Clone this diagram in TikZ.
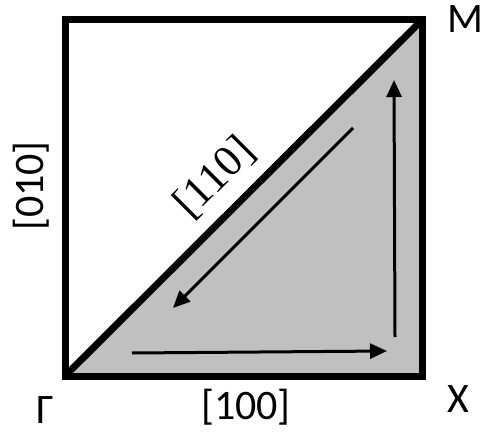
\documentclass[tikz,border=0pt]{standalone}
\usepackage{fontspec}
\setmainfont{Carlito}
\newfontfamily\serifnum{Liberation Serif}
\usetikzlibrary{arrows.meta}
\definecolor{zonegray}{RGB}{192,192,192}
\tikzset{
  frame/.style={line width=7pt, line join=miter},
  path arrow/.style={line width=3pt, -{Triangle[length=17pt,width=15pt]}},
  lbl/.style={font=\fontsize{42}{50}\selectfont, inner sep=0pt},
  serlbl/.style={font=\serifnum\fontsize{44}{52}\selectfont, inner sep=0pt}
}
\begin{document}
\begin{tikzpicture}[x=1pt,y=1pt]
\useasboundingbox (0,0) rectangle (484,434);
\coordinate (G) at (65,58);
\coordinate (X) at (422,58);
\coordinate (M) at (422,414);
\coordinate (T) at (65,414);
\fill[zonegray] (G) -- (X) -- (M) -- cycle;
\draw[frame] (G) -- (X) -- (M) -- (T) -- cycle;
\draw[frame] (G) -- (M);
% arrows
\coordinate (a1s) at (132,81);
\coordinate (a1e) at (387,83);
\coordinate (a2s) at (395,97);
\coordinate (a2e) at (394,354);
\coordinate (a3s) at (353,306);
\coordinate (a3e) at (173,126);
\draw[path arrow] (a1s) -- (a1e);
\draw[path arrow] (a2s) -- (a2e);
\draw[path arrow] (a3s) -- (a3e);
% labels
\node[lbl, anchor=base] (lM) at (465,401) {M};
\node[lbl, anchor=base] (lX) at (458,22) {X};
\node[lbl, anchor=base] (lG) at (45,11) {Γ};
\node[lbl, anchor=base] (l100) at (246,15) {[100]};
\node[lbl, anchor=base, rotate=90] (l010) at (43,248) {[010]};
\node[serlbl, rotate=45] (l110) at (215,256) {[110]};
\end{tikzpicture}
\end{document}
